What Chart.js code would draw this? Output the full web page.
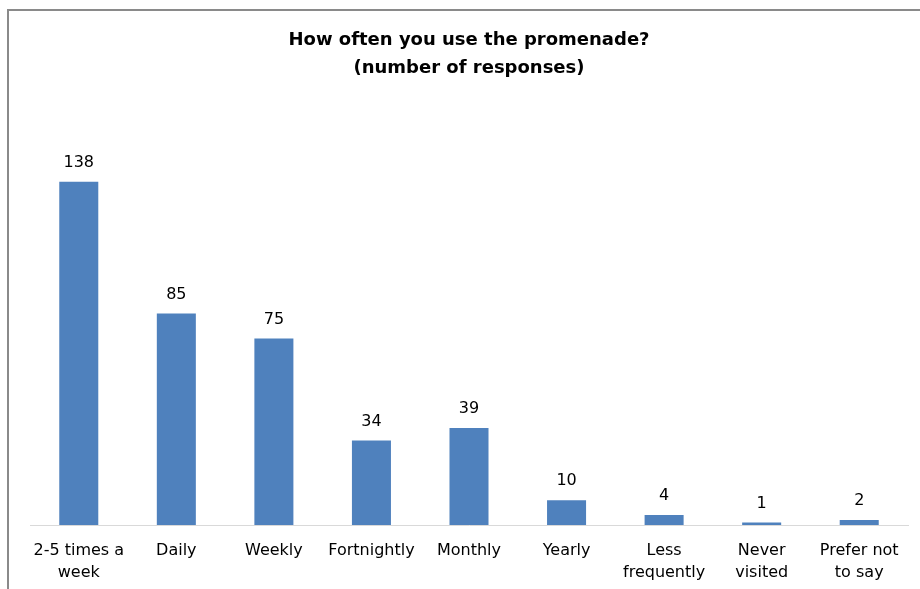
<!DOCTYPE html>
<html>
<head>
<meta charset="utf-8">
<script src="https://cdn.jsdelivr.net/npm/chart.js@4/dist/chart.umd.min.js"></script>
<style>
  html, body { margin: 0; padding: 0; background: #fff; }
  #wrap { width: 920px; height: 589px; }
</style>
</head>
<body>
<div id="wrap"><canvas id="c" width="920" height="589"></canvas></div>
<script>
const categories = [
  ['2-5 times a', 'week'], 'Daily', 'Weekly', 'Fortnightly', 'Monthly', 'Yearly',
  ['Less', 'frequently'], ['Never', 'visited'], ['Prefer not', 'to say']
];
const responses = [138, 85, 75, 34, 39, 10, 4, 1, 2];
const titleLines = ['How often you use the promenade?', '(number of responses)'];

const FONT = "'DejaVu Sans', 'Open Sans', sans-serif";

// Frame around the chart plus the two-line heading
const framePlugin = {
  id: 'frame',
  beforeDraw(chart) {
    const ctx = chart.ctx;
    ctx.save();
    ctx.fillStyle = '#fff';
    ctx.fillRect(0, 0, chart.width, chart.height);
    ctx.strokeStyle = '#8a8a8a';
    ctx.lineWidth = 2;
    ctx.beginPath();
    ctx.moveTo(8, chart.height + 2);
    ctx.lineTo(8, 10);
    ctx.lineTo(chart.width + 2, 10);
    ctx.stroke();

    const cx = (chart.chartArea.left + chart.chartArea.right) / 2;
    ctx.fillStyle = '#000';
    ctx.textAlign = 'center';
    ctx.textBaseline = 'middle';
    ctx.font = 'bold 18px ' + FONT;
    ctx.fillText(titleLines[0], cx, 40);
    ctx.fillText(titleLines[1], cx, 68);
    ctx.restore();
  }
};

// Value printed above each bar
const valueLabels = {
  id: 'valueLabels',
  afterDatasetsDraw(chart) {
    const ctx = chart.ctx;
    const meta = chart.getDatasetMeta(0);
    ctx.save();
    ctx.fillStyle = '#000';
    ctx.textAlign = 'center';
    ctx.textBaseline = 'middle';
    ctx.font = '16px ' + FONT;
    meta.data.forEach((bar, i) => {
      ctx.fillText(String(chart.data.datasets[0].data[i]), bar.x, bar.y - 19);
    });
    ctx.restore();
  }
};

new Chart(document.getElementById('c'), {
  type: 'bar',
  data: {
    labels: categories,
    datasets: [{
      data: responses,
      backgroundColor: '#4F81BD',
      borderWidth: 0,
      categoryPercentage: 1,
      barPercentage: 0.4
    }]
  },
  options: {
    responsive: false,
    animation: false,
    layout: { padding: { left: 30, right: 12, top: 127, bottom: 0 } },
    plugins: {
      legend: { display: false },
      title: { display: false },
      tooltip: { enabled: false }
    },
    scales: {
      y: { display: false, min: 0, max: 160 },
      x: {
        afterFit(scale) { scale.height = 64; },
        grid: { display: false, drawTicks: false },
        border: { display: true, color: '#d9d9d9', width: 1 },
        ticks: {
          padding: 15,
          color: '#000',
          font: { family: FONT, size: 16, lineHeight: 1.375 },
          maxRotation: 0,
          autoSkip: false
        }
      }
    }
  },
  plugins: [framePlugin, valueLabels]
});
</script>
</body>
</html>
